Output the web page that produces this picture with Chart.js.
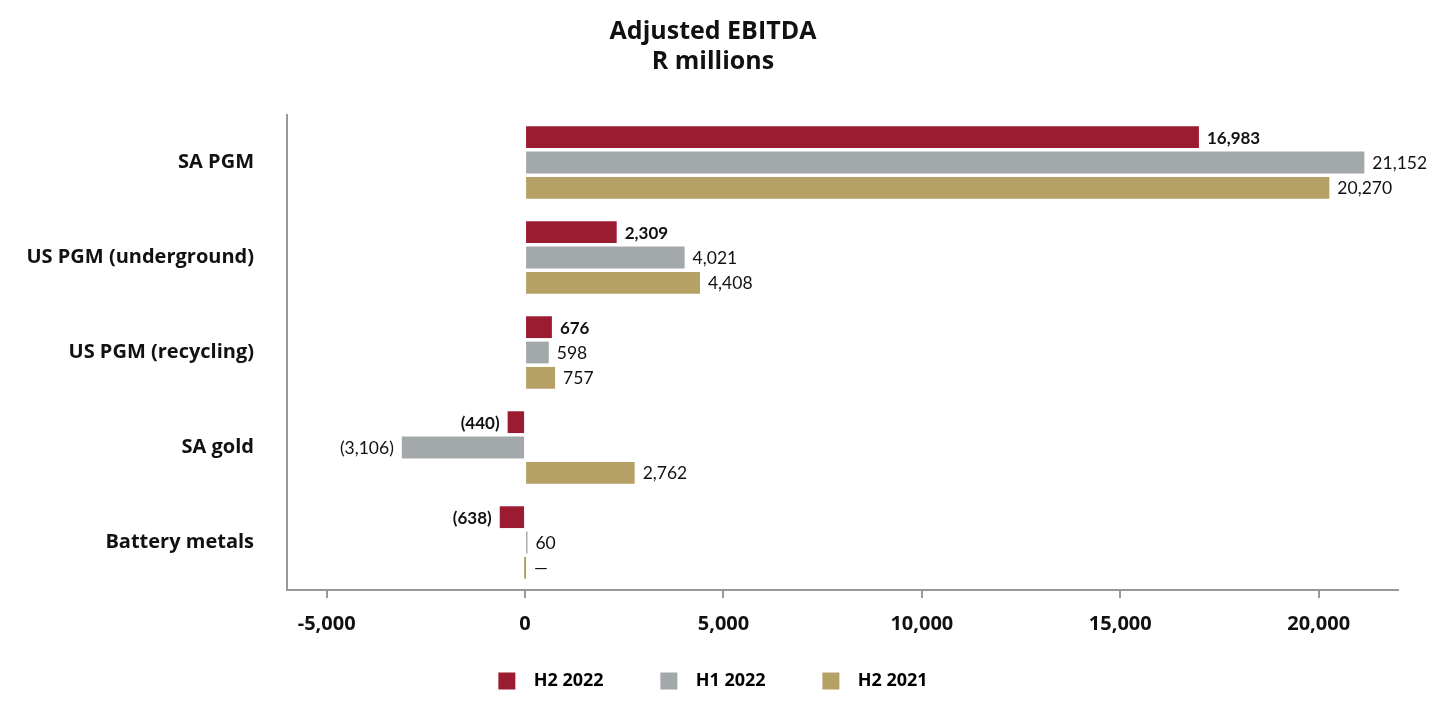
<!DOCTYPE html>
<html>
<head>
<meta charset="utf-8">
<script src="https://cdn.jsdelivr.net/npm/chart.js@4.4.1/dist/chart.umd.min.js"></script>
<style>
  html, body { margin: 0; padding: 0; background: #fff; }
  #wrap { width: 1440px; height: 720px; }
</style>
</head>
<body>
<div id="wrap"><canvas id="ebitdaChart"></canvas></div>
<script>
const categories = ["SA PGM", "US PGM (underground)", "US PGM (recycling)", "SA gold", "Battery metals"];
const seriesNames = ["H2 2022", "H1 2022", "H2 2021"];
const h2_2022 = [16983, 2309, 676, -440, -638];
const h1_2022 = [21152, 4021, 598, -3106, 60];
const h2_2021 = [20270, 4408, 757, 2762, 0];
const xTicks = [-5000, 0, 5000, 10000, 15000, 20000];

const colors = ["#9B1B30", "#A3A8AB", "#B5A165"];

function fmtValue(v) {
  if (v === 0) return "\u2014";
  const s = Math.abs(v).toLocaleString("en-US");
  return v < 0 ? "(" + s + ")" : s;
}

// draws the value next to each bar end
const valueLabels = {
  id: "valueLabels",
  afterDatasetsDraw(chart) {
    const ctx = chart.ctx;
    chart.data.datasets.forEach((ds, di) => {
      const meta = chart.getDatasetMeta(di);
      meta.data.forEach((bar, i) => {
        const v = ds.data[i];
        ctx.save();
        ctx.fillStyle = "#111";
        ctx.font = di === 0 ? "bold 17px Lato" : "17.5px Lato";
        ctx.textBaseline = "middle";
        if (v < 0) {
          ctx.textAlign = "right";
          ctx.fillText(fmtValue(v), Math.min(bar.x, bar.base) - 8, bar.y + 1);
        } else {
          ctx.textAlign = "left";
          ctx.fillText(fmtValue(v), Math.max(bar.x, bar.base) + 8, bar.y + 1);
        }
        ctx.restore();
      });
    });
  }
};

new Chart("ebitdaChart", {
  type: "bar",
  data: {
    labels: categories,
    datasets: [h2_2022, h1_2022, h2_2021].map((d, i) => ({
      label: seriesNames[i],
      data: d,
      backgroundColor: colors[i],
      borderWidth: 0,
      minBarLength: 2,
      categoryPercentage: 0.8,
      barPercentage: 0.86,
    })),
  },
  options: {
    indexAxis: "y",
    responsive: true,
    maintainAspectRatio: false,
    animation: false,
    layout: { padding: { left: 28, right: 42, top: 0, bottom: 20 } },
    scales: {
      x: {
        min: -6000,
        max: 22000,
        afterBuildTicks: (scale) => { scale.ticks = xTicks.map(v => ({ value: v })); },
        afterFit: (scale) => { scale.height = 72; },
        grid: {
          display: true,
          drawOnChartArea: false,
          drawTicks: true,
          tickLength: 8,
          color: "#999",
          lineWidth: 2,
        },
        border: { display: true, color: "#999", width: 2 },
        ticks: {
          color: "#111",
          font: { family: "Open Sans", size: 20, weight: "bold" },
          padding: 14,
          callback: (v) => v.toLocaleString("en-US"),
        },
      },
      y: {
        afterFit: (scale) => { scale.width = 259; },
        grid: { display: false, drawTicks: false },
        border: { display: true, color: "#999", width: 2 },
        ticks: {
          color: "#111",
          font: { family: "Open Sans", size: 20, weight: "bold" },
          padding: 33,
        },
      },
    },
    plugins: {
      title: {
        display: true,
        text: ["Adjusted EBITDA", "R millions"],
        color: "#111",
        font: { family: "Open Sans", size: 25, weight: "bold", lineHeight: 1.2 },
        padding: { top: 17, bottom: 38 },
      },
      legend: {
        position: "bottom",
        labels: {
          color: "#111",
          boxWidth: 17,
          boxHeight: 17,
          padding: 10,
          font: { family: "Open Sans", size: 18, weight: "bold" },
          generateLabels: (chart) => chart.data.datasets.map((ds, i) => ({
            text: "  " + ds.label + (i < 2 ? "          " : ""),
            fillStyle: ds.backgroundColor,
            strokeStyle: ds.backgroundColor,
            lineWidth: 0,
            datasetIndex: i,
          })),
        },
      },
      tooltip: { enabled: false },
    },
  },
  plugins: [valueLabels],
});
</script>
</body>
</html>
